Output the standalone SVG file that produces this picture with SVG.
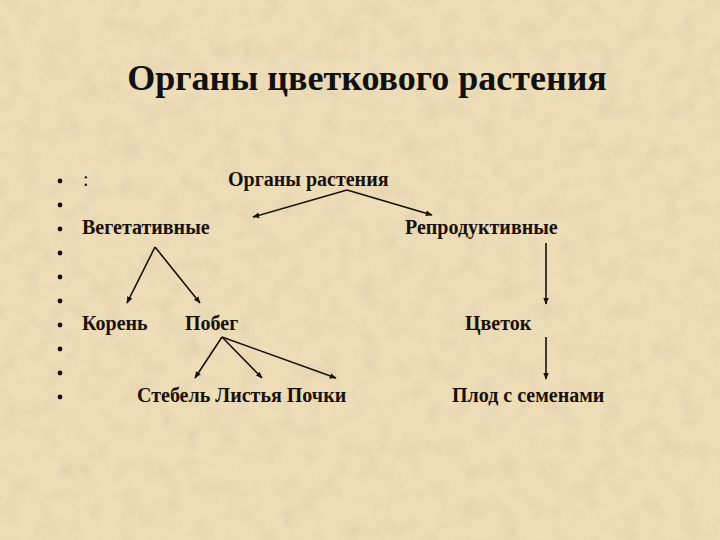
<svg xmlns="http://www.w3.org/2000/svg" width="720" height="540" viewBox="0 0 720 540">
<style>
text{font-family:"Liberation Serif","Times New Roman",serif;font-weight:bold;fill:#1a1008}
.t{font-size:36px;text-anchor:middle;fill:#111}
.l{font-size:20px}
.b{fill:#1a1008}
.c{stroke:#1a1008;stroke-width:1.6;fill:none}
</style>
<defs>
<marker id="ah" viewBox="0 0 10 10" refX="9" refY="5" markerWidth="7" markerHeight="7" orient="auto" markerUnits="userSpaceOnUse">
<path d="M0,1 L10,5 L0,9 Z" fill="#1a1008"/>
</marker>
<filter id="tex" x="0" y="0" width="100%" height="100%">
<feTurbulence type="fractalNoise" baseFrequency="0.05" numOctaves="4" seed="7" result="n"/>
<feColorMatrix in="n" type="matrix" values="0 0 0 0 0.74  0 0 0 0 0.62  0 0 0 0 0.42  0 0 0 1.6 -0.62" result="m"/>
<feComposite in="m" in2="SourceGraphic" operator="in"/>
</filter>
</defs>
<rect width="720" height="540" fill="#eedeb8"/>
<rect width="720" height="540" fill="#eedeb8" filter="url(#tex)" opacity="0.8"/>
<g id="title"><text class="t" x="367" y="90">Органы цветкового растения</text></g>
<g id="bullets" class="b">
<circle cx="60" cy="181" r="2.4"/><circle cx="60" cy="205" r="2.4"/><circle cx="60" cy="229" r="2.4"/><circle cx="60" cy="253" r="2.4"/><circle cx="60" cy="277" r="2.4"/><circle cx="60" cy="301" r="2.4"/><circle cx="60" cy="325" r="2.4"/><circle cx="60" cy="349" r="2.4"/><circle cx="60" cy="373" r="2.4"/><circle cx="60" cy="397" r="2.4"/>
</g>
<g id="colon"><text class="l" x="83" y="186" style="font-weight:normal">:</text></g>
<g id="organy"><text class="l" x="228" y="186">Органы растения</text></g>
<g id="veget"><text class="l" x="82" y="234">Вегетативные</text></g>
<g id="reprod"><text class="l" x="405" y="234">Репродуктивные</text></g>
<g id="koren"><text class="l" x="82" y="330">Корень</text></g>
<g id="pobeg"><text class="l" x="185" y="330">Побег</text></g>
<g id="cvetok"><text class="l" x="465" y="330">Цветок</text></g>
<g id="steb"><text class="l" x="137" y="402">Стебель Листья Почки</text></g>
<g id="plod"><text class="l" x="452" y="402">Плод с семенами</text></g>
<g id="connectors" class="c" marker-end="url(#ah)">
<line x1="347" y1="190" x2="253" y2="217"/>
<line x1="347" y1="190" x2="432" y2="215"/>
<line x1="155" y1="247" x2="127" y2="303"/>
<line x1="155" y1="247" x2="200" y2="303"/>
<line x1="222" y1="337" x2="195" y2="378"/>
<line x1="222" y1="337" x2="262" y2="378"/>
<line x1="222" y1="337" x2="336" y2="378"/>
<line x1="546" y1="243" x2="546" y2="304"/>
<line x1="546" y1="337" x2="546" y2="379"/>
</g>
</svg>
